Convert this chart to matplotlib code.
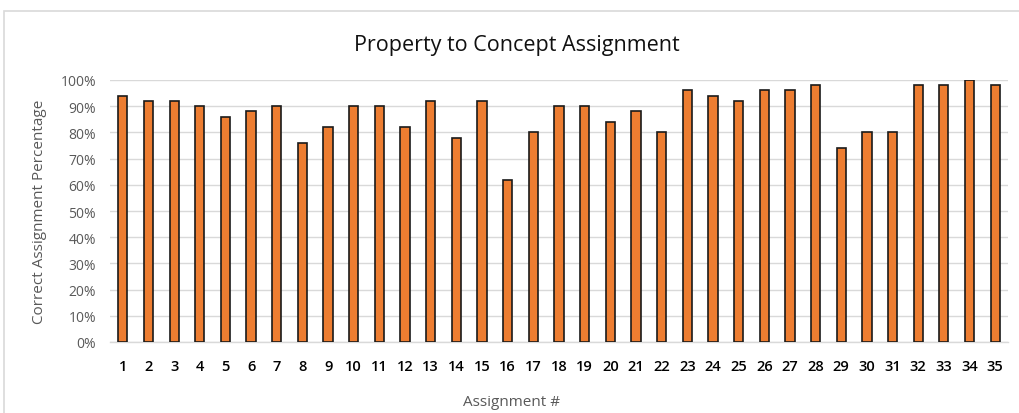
import matplotlib
matplotlib.use("Agg")
import matplotlib.pyplot as plt
from matplotlib.patches import Rectangle
from matplotlib.ticker import PercentFormatter

assignments = list(range(1, 36))
correct_pct = [94, 92, 92, 90, 86, 88, 90, 76, 82, 90,
               90, 82, 92, 78, 92, 62, 80, 90, 90, 84,
               88, 80, 96, 94, 92, 96, 96, 98, 74, 80,
               80, 98, 98, 100, 98]
y_ticks = list(range(0, 101, 10))

plt.rcParams['font.family'] = ['Open Sans', 'DejaVu Sans']

fig = plt.figure(figsize=(10.19, 4.14), dpi=100)
ax = fig.add_axes([110 / 1019, 1 - 343 / 414, (1008 - 110) / 1019, (343 - 81) / 414])

# chart frame
fig.patches.append(Rectangle((4 / 1019, -0.1), 1.2, 1 - 12 / 414 + 0.1,
                             transform=fig.transFigure, fill=False,
                             edgecolor='#D9D9D9', linewidth=1.2))

ax.bar(assignments, correct_pct, width=0.36, color='#ED7D31',
       edgecolor='#1a1a1a', linewidth=1.2, zorder=3)

ax.set_xlim(0.5, 35.5)
ax.set_ylim(0, 100)
ax.set_yticks(y_ticks)
ax.yaxis.set_major_formatter(PercentFormatter(decimals=0))
ax.set_xticks(assignments)
ax.set_xticklabels([str(a) for a in assignments])

ax.grid(axis='y', color='#D9D9D9', linewidth=1.0, zorder=0)
for s in ['top', 'right', 'left']:
    ax.spines[s].set_visible(False)
ax.spines['bottom'].set_color('#D9D9D9')
ax.spines['bottom'].set_linewidth(1.0)
ax.tick_params(axis='both', length=0)
ax.tick_params(axis='y', labelsize=10, labelcolor='#595959', pad=10)
ax.tick_params(axis='x', labelsize=10.5, labelcolor='#000000', pad=12)
for lbl in ax.get_xticklabels():
    lbl.set_fontweight('semibold')

ax.set_ylabel('Correct Assignment Percentage', fontsize=11, color='#595959', labelpad=10)
fig.text(0.502, 1 - 403 / 414, 'Assignment #', ha='center', va='center',
         fontsize=11, color='#595959')
fig.text(0.507, 1 - 45 / 414, 'Property to Concept Assignment', ha='center', va='center',
         fontsize=15.5, color='#111111')

fig.savefig('out.png', dpi=100)
